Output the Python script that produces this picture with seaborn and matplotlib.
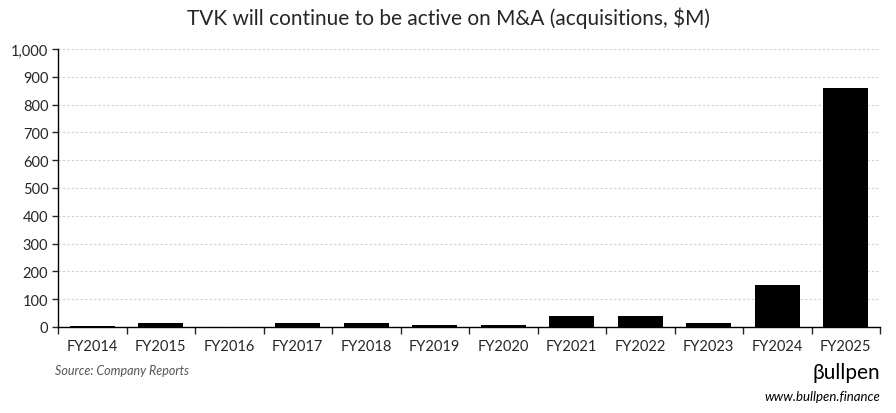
import matplotlib
matplotlib.use("Agg")
import matplotlib.pyplot as plt
import matplotlib.ticker as mticker
import seaborn as sns
import numpy as np

# acquisitions, $M
years = ["FY2014", "FY2015", "FY2016", "FY2017", "FY2018", "FY2019",
         "FY2020", "FY2021", "FY2022", "FY2023", "FY2024", "FY2025"]
acquisitions = [3, 16, 0, 16, 16, 8, 8, 38, 38, 15, 150, 860]

sns.set_style("white")
plt.rcParams['font.family'] = ['Lato', 'DejaVu Sans']

fig = plt.figure(figsize=(8.96, 4.14), dpi=100)
ax = fig.add_axes([58 / 896, 1 - 328 / 414, (880 - 58) / 896, (328 - 50) / 414])

sns.barplot(x=years, y=acquisitions, color="black", width=0.66,
            saturation=1, linewidth=0, ax=ax, zorder=3)

ax.set_ylim(0, 1000)
ax.set_xlim(-0.5, len(years) - 0.5)
ax.yaxis.set_major_locator(mticker.MultipleLocator(100))
ax.yaxis.set_major_formatter(mticker.FuncFormatter(lambda v, p: f"{int(v):,}"))
ax.grid(axis="y", color="#d0d0d0", linestyle=(0, (2, 2)), linewidth=0.8, zorder=0)

for s in ["top", "right"]:
    ax.spines[s].set_visible(False)
for s in ["left", "bottom"]:
    ax.spines[s].set_color("black")
    ax.spines[s].set_linewidth(1.0)

ax.tick_params(axis="y", which="major", left=True, length=4, width=1,
               labelsize=10.5, pad=3)
ax.tick_params(axis="x", which="major", length=0, labelsize=10.5, pad=9)
ax.xaxis.set_minor_locator(mticker.FixedLocator(np.arange(-0.5, len(years), 1)))
ax.tick_params(axis="x", which="minor", bottom=True, length=5, width=1)
ax.set_xlabel("")
ax.set_ylabel("")

fig.text(0.5, 1 - 18 / 414, "TVK will continue to be active on M&A (acquisitions, $M)",
         ha="center", va="center", fontsize=15)
fig.text(55 / 896, 1 - 371 / 414, "Source: Company Reports", ha="left", va="center",
         fontsize=9, style="italic", color="#555555")
fig.text(880 / 896, 1 - 373 / 414, "βullpen", ha="right", va="center",
         fontsize=15, color="black")
fig.text(880 / 896, 1 - 397 / 414, "www.bullpen.finance", ha="right", va="center",
         fontsize=9.5, style="italic", color="black")

fig.savefig("out.png", dpi=100)
